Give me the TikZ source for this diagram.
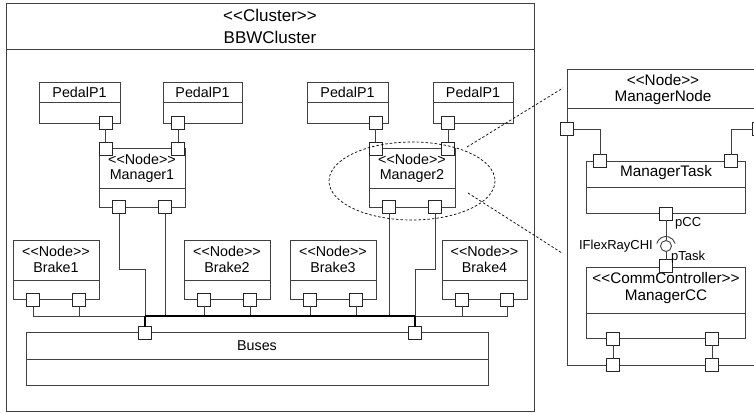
\documentclass[tikz,border=0pt]{standalone}
\usepackage{fontspec}
\setmainfont{Liberation Sans}
\usetikzlibrary{shapes.geometric}
\definecolor{linec}{gray}{0.25}
\newcommand\ster[1]{<\kern0pt<#1>\kern0pt>}
\begin{document}
\begin{tikzpicture}[x=1pt,y=-1pt,
  lc/.style={draw=linec, line width=0.9pt},
  box/.style={draw=linec, line width=0.9pt, fill=white, inner sep=0pt, outer sep=0pt, anchor=north west},
  port/.style={draw=black!85, line width=0.9pt, fill=white, inner sep=0pt, outer sep=0pt, minimum size=13pt},
  wire/.style={draw=linec, line width=0.9pt},
  buswire/.style={draw=black, line width=2.4pt},
  lbl/.style={inner sep=0pt, font=\fontsize{14.3}{16}\selectfont, text=black},
  rlbl/.style={inner sep=0pt, font=\fontsize{15.3}{17}\selectfont, text=black},
  big/.style={inner sep=0pt, font=\fontsize{17}{19}\selectfont, text=black},
  small/.style={inner sep=0pt, font=\fontsize{13}{15}\selectfont, text=black},
  zoomline/.style={draw=black, line width=0.7pt, dash pattern=on 2.5pt off 2pt}
]
\useasboundingbox (0,0) rectangle (754,412);
\clip (0,0) rectangle (754,412);

% ---------- cluster ----------
\node[box, minimum width=528pt, minimum height=408pt] (cl) at (6,3) {};
\draw[lc] (6,49) -- (534,49);
\node[big] (clst) at (270,15) {\ster{Cluster}};
\node[big] (clnm) at (270,37) {BBWCluster};

% ---------- pedals ----------
\node[box, minimum width=81pt, minimum height=41pt] (ped1) at (39,82) {};
\draw[lc] (39,102) -- (120,102);
\node[lbl] (ped1t) at (79.5,92) {PedalP1};
\node[box, minimum width=79pt, minimum height=41pt] (ped2) at (163,82) {};
\draw[lc] (163,102) -- (242,102);
\node[lbl] (ped2t) at (202.5,92) {PedalP1};
\node[box, minimum width=81pt, minimum height=41pt] (ped3) at (307,82) {};
\draw[lc] (307,102) -- (388,102);
\node[lbl] (ped3t) at (347.5,92) {PedalP1};
\node[box, minimum width=80pt, minimum height=41pt] (ped4) at (433,82) {};
\draw[lc] (433,102) -- (513,102);
\node[lbl] (ped4t) at (473,92) {PedalP1};

% ---------- managers ----------
\node[box, minimum width=86pt, minimum height=59pt] (m1) at (99,148) {};
\draw[lc] (99,188) -- (185,188);
\node[lbl] (m1s) at (142,159) {\ster{Node}};
\node[lbl] (m1n) at (142,176) {Manager1};
\node[box, minimum width=86pt, minimum height=59pt] (m2) at (369,148) {};
\draw[lc] (369,188) -- (455,188);
\node[lbl] (m2s) at (412,159) {\ster{Node}};
\node[lbl] (m2n) at (412,176) {Manager2};

% ---------- brakes ----------
\node[box, minimum width=86pt, minimum height=59pt] (b1) at (13,240) {};
\draw[lc] (13,280) -- (99,280);
\node[lbl] (b1s) at (56,251) {\ster{Node}};
\node[lbl] (b1n) at (56,267) {Brake1};
\node[box, minimum width=86pt, minimum height=59pt] (b2) at (184,240) {};
\draw[lc] (184,280) -- (270,280);
\node[lbl] (b2s) at (227,251) {\ster{Node}};
\node[lbl] (b2n) at (227,267) {Brake2};
\node[box, minimum width=86pt, minimum height=59pt] (b3) at (290,240) {};
\draw[lc] (290,280) -- (376,280);
\node[lbl] (b3s) at (333,251) {\ster{Node}};
\node[lbl] (b3n) at (333,267) {Brake3};
\node[box, minimum width=85pt, minimum height=59pt] (b4) at (442,240) {};
\draw[lc] (442,280) -- (527,280);
\node[lbl] (b4s) at (484.5,251) {\ster{Node}};
\node[lbl] (b4n) at (484.5,267) {Brake4};

% ---------- buses ----------
\node[box, minimum width=462pt, minimum height=53pt] (bus) at (26,332) {};
\draw[lc] (26,359) -- (488,359);
\node[lbl] (bust) at (257,346) {Buses};

% ---------- ports (cluster) ----------
\node[port] (p1) at (105.5,122.5) {};
\node[port] (p2) at (178,122.5) {};
\node[port] (p3) at (375.5,122.5) {};
\node[port] (p4) at (448,122.5) {};
\node[port] (m1a) at (105.5,148.5) {};
\node[port] (m1b) at (178,148.5) {};
\node[port] (m2a) at (375.5,148.5) {};
\node[port] (m2b) at (448,148.5) {};
\node[port] (m1c) at (119,207) {};
\node[port] (m1d) at (165,207) {};
\node[port] (m2c) at (389,207) {};
\node[port] (m2d) at (435,207) {};
\node[port] (b1a) at (33,299.5) {};
\node[port] (b1b) at (79,299.5) {};
\node[port] (b2a) at (204,299.5) {};
\node[port] (b2b) at (250,299.5) {};
\node[port] (b3a) at (310,299.5) {};
\node[port] (b3b) at (356,299.5) {};
\node[port] (b4a) at (462,299.5) {};
\node[port] (b4b) at (507,299.5) {};
\node[port] (busL) at (145,333) {};
\node[port] (busR) at (415,333) {};

% ---------- wiring (cluster) ----------
\draw[wire] (p1.south) -- (m1a.north);
\draw[wire] (p2.south) -- (m1b.north);
\draw[wire] (p3.south) -- (m2a.north);
\draw[wire] (p4.south) -- (m2b.north);
\coordinate (jL) at (145,316);
\coordinate (jR) at (415,316);
\coordinate (k1) at (145,269);
\coordinate (k2) at (415,269);
\draw[wire] (b1a.south) |- (jL);
\draw[wire] (b1b.south) -- (b1b.south |- jL);
\draw[wire] (m1c.south) |- (k1) -- (jL);
\draw[wire] (m1d.south) -- (m1d.south |- jL);
\draw[wire] (b2a.south) -- (b2a.south |- jL);
\draw[wire] (b2b.south) -- (b2b.south |- jL);
\draw[wire] (b3a.south) -- (b3a.south |- jL);
\draw[wire] (b3b.south) -- (b3b.south |- jL);
\draw[wire] (m2c.south) -- (m2c.south |- jL);
\draw[wire] (m2d.south) |- (k2) -- (jR);
\draw[wire] (b4a.south) -- (b4a.south |- jR);
\draw[wire] (b4b.south) |- (jR);
\draw[buswire] (jL) -- (jR);
\draw[buswire] (jL) -- (busL.north);
\draw[buswire] (jR) -- (busR.north);

% ---------- ManagerNode ----------
\node[box, minimum width=192pt, minimum height=296pt] (mn) at (567,69) {};
\draw[lc] (567,108) -- (759,108);
\node[rlbl] (mns) at (663,80) {\ster{Node}};
\node[rlbl] (mnn) at (663,98) {ManagerNode};

\node[box, minimum width=159pt, minimum height=52pt] (mt) at (586,161) {};
\draw[lc] (586,187) -- (745,187);
\node[rlbl] (mtn) at (666,173) {ManagerTask};

\node[box, minimum width=159pt, minimum height=71pt] (mc) at (586,267) {};
\draw[lc] (586,313) -- (745,313);
\node[rlbl] (mcs) at (666,278) {\ster{CommController}};
\node[rlbl] (mcn) at (666,297) {ManagerCC};

\node[port] (mnL) at (567,129) {};
\node[port] (mnR) at (759,129) {};
\node[port] (mtA) at (600,161) {};
\node[port] (mtB) at (731,161) {};
\node[port] (pcc) at (666,213.5) {};
\node[port] (ptask) at (666,266) {};
\node[port] (mcA) at (613,338.5) {};
\node[port] (mcB) at (712,338.5) {};
\node[port] (mnA) at (613,365) {};
\node[port] (mnB) at (712,365) {};

\draw[wire] (mnL.east) -| (mtA.north);
\draw[wire] (mnR.west) -| (mtB.north);
\draw[wire] (mcA.south) -- (mnA.north);
\draw[wire] (mcB.south) -- (mnB.north);

\node[circle, draw=linec, line width=0.9pt, fill=white, minimum size=11pt, inner sep=0pt] (ball) at (666,246) {};
\draw[wire] (pcc.south) -- (ball.north);
\draw[wire] (ball.south) -- (ptask.north);
\draw[wire] (ball.center) ++(195:9.5) arc[start angle=195, end angle=345, radius=9.5];
\node[small, anchor=west] (pccl) at (675,223) {pCC};
\node[small, anchor=west] (ptl) at (671,257) {pTask};
\node[small, anchor=east] (ifl) at (653,246) {IFlexRayCHI};

% ---------- zoom indication ----------
\draw[zoomline] (412,181) ellipse [x radius=83, y radius=39];
\coordinate (z1a) at (467,147);
\coordinate (z1b) at (563,88);
\coordinate (z2a) at (468,193);
\coordinate (z2b) at (562,253);
\draw[zoomline] (z1a) -- (z1b);
\draw[zoomline] (z2a) -- (z2b);
\end{tikzpicture}
\end{document}
